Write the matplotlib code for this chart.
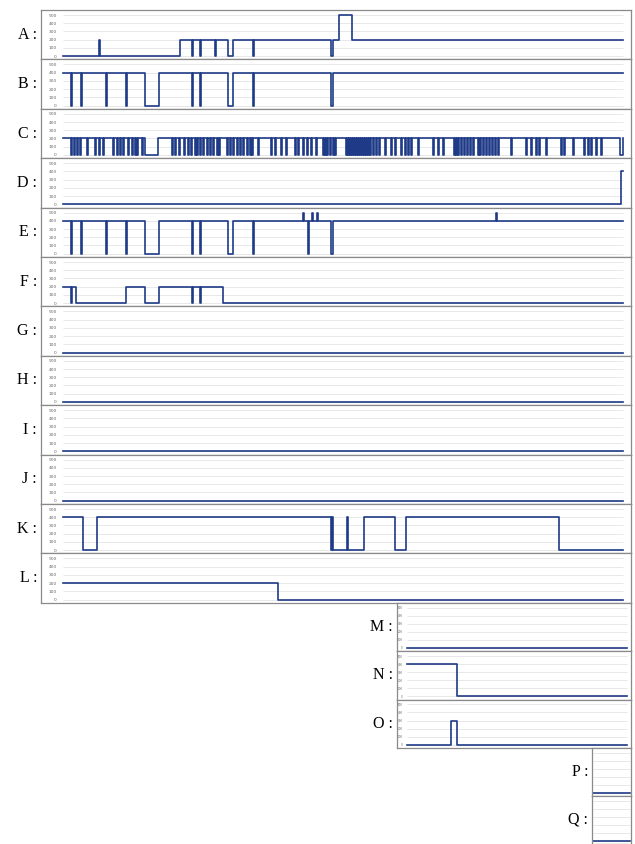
import matplotlib
matplotlib.use("Agg")
import matplotlib.pyplot as plt

W, H = 635, 844
T_END = 560
LINE = '#1f3b87'
levels = [0, 100, 200, 300, 400, 500]

# step series: change times and the level held from each time on
a_t = [0, 36, 37, 117, 129, 130, 137, 138, 152, 153, 165, 170, 190, 191, 268, 270, 276, 289]
a_v = [0, 200, 0, 200, 0, 200, 0, 200, 0, 200, 0, 200, 0, 200, 0, 200, 500, 200]

b_t = [0, 8, 9, 18, 19, 43, 44, 63, 64, 82, 96, 129, 130, 137, 138, 165, 170, 190, 191, 268, 270]
b_v = [400, 0, 400, 0, 400, 0, 400, 0, 400, 0, 400, 0, 400, 0, 400, 0, 400, 0, 400, 0, 400]

# C sits at 200 and drops to 0 at these times (short dips) and one long gap
c_base = 200
c_dips = [8, 11, 14, 17, 24, 32, 36, 40, 50, 54, 57, 60, 65, 69, 72, 74, 79,
          109, 112, 116, 121, 125, 128, 132, 134, 137, 140, 144, 147, 150, 154, 156,
          164, 167, 170, 174, 177, 180, 184, 187, 189, 195, 208, 212, 218, 223, 232,
          235, 240, 244, 248, 253, 260, 262, 264, 267, 270, 272, 283, 285, 287, 289,
          291, 293, 295, 297, 299, 301, 303, 305, 307, 310, 313, 316, 322, 328, 332,
          338, 342, 345, 348, 355, 370, 375, 380, 391, 393, 395, 398, 401, 404, 407,
          410, 415, 417, 420, 423, 426, 429, 432, 435, 448, 463, 468, 473, 476, 483,
          498, 501, 510, 521, 525, 528, 533, 538]
c_gaps = [(82, 95), (557, T_END)]

d_t = [0, 558]
d_v = [0, 400]

e_t = [0, 8, 9, 18, 19, 43, 44, 63, 64, 82, 96, 129, 130, 137, 138, 165, 170, 190, 191,
       240, 241, 245, 246, 249, 250, 254, 255, 268, 270, 433, 434]
e_v = [400, 0, 400, 0, 400, 0, 400, 0, 400, 0, 400, 0, 400, 0, 400, 0, 400, 0, 400,
       500, 400, 0, 400, 500, 400, 500, 400, 0, 400, 500, 400]

f_t = [0, 8, 9, 13, 63, 82, 96, 129, 130, 137, 138, 160]
f_v = [200, 0, 200, 0, 200, 0, 200, 0, 200, 0, 200, 0]

flat_t = [0]
flat_v = [0]

k_t = [0, 20, 34, 268, 269, 270, 284, 285, 301, 332, 343, 496]
k_v = [400, 0, 400, 0, 400, 0, 400, 0, 400, 0, 400, 0]

l_t = [0, 215]
l_v = [200, 0]

n_t = [0, 127]
n_v = [400, 0]

o_t = [0, 111, 126]
o_v = [0, 300, 0]


def dips_to_steps(base, dips, gaps, width=1.0):
    spans = sorted([(d, d + width) for d in dips] + list(gaps))
    t, v = [0], [base]
    for s, e in spans:
        t += [s, e]
        v += [0, base]
    return t, v


c_t, c_v = dips_to_steps(c_base, c_dips, c_gaps)

main_rows = [('A', a_t, a_v), ('B', b_t, b_v), ('C', c_t, c_v), ('D', d_t, d_v),
             ('E', e_t, e_v), ('F', f_t, f_v), ('G', flat_t, flat_v), ('H', flat_t, flat_v),
             ('I', flat_t, flat_v), ('J', flat_t, flat_v), ('K', k_t, k_v), ('L', l_t, l_v)]

fig = plt.figure(figsize=(W / 100, H / 100), dpi=100)


def panel(label, t, v, left, right, top, bottom, ds, de, fs, pad, tick_fs):
    ax = fig.add_axes([left / W, 1 - bottom / H, (right - left) / W, (bottom - top) / H])
    k = T_END / (de - ds)
    ax.set_xlim(-(ds - left) * k, T_END + (right - de) * k)
    ax.set_ylim(-40, 561)
    ax.hlines(levels, 0, T_END, color='#e4e4e4', lw=0.6, zorder=1)
    ax.step(list(t) + [T_END], list(v) + [v[-1]], where='post', color=LINE, lw=1.2, zorder=2)
    ax.set_xticks([])
    if tick_fs:
        ax.set_yticks(levels)
        ax.tick_params(axis='y', length=0, pad=pad, labelsize=tick_fs, labelcolor='#666666')
    else:
        ax.set_yticks([])
    for s in ax.spines.values():
        s.set_color('#8a8a8a')
        s.set_linewidth(0.9)
    fig.text((left - 4) / W, 1 - (top + bottom) / 2 / H, label + ' :', ha='right', va='center',
             fontsize=11.5, family='Liberation Serif')
    return ax


h = 49.4
for i, (lab, t, v) in enumerate(main_rows):
    top = 10 + i * h
    panel(lab, t, v, 41, 631, top, top + h, 63, 623, 11.5, -11.5, 3.2)

small_rows = [('M', flat_t, flat_v), ('N', n_t, n_v), ('O', o_t, o_v)]
for i, (lab, t, v) in enumerate(small_rows):
    top = 602.7 + i * 48.4
    panel(lab, t, v, 397, 631, top, top + 48.4, 407, 627, 11.5, -4.3, 2.0)

for i, lab in enumerate(['P', 'Q']):
    top = 748 + i * 48
    panel(lab, flat_t, flat_v, 592, 631, top, top + 48, 593, 630, 11.5, 0, None)

fig.savefig('out.png', dpi=100)
